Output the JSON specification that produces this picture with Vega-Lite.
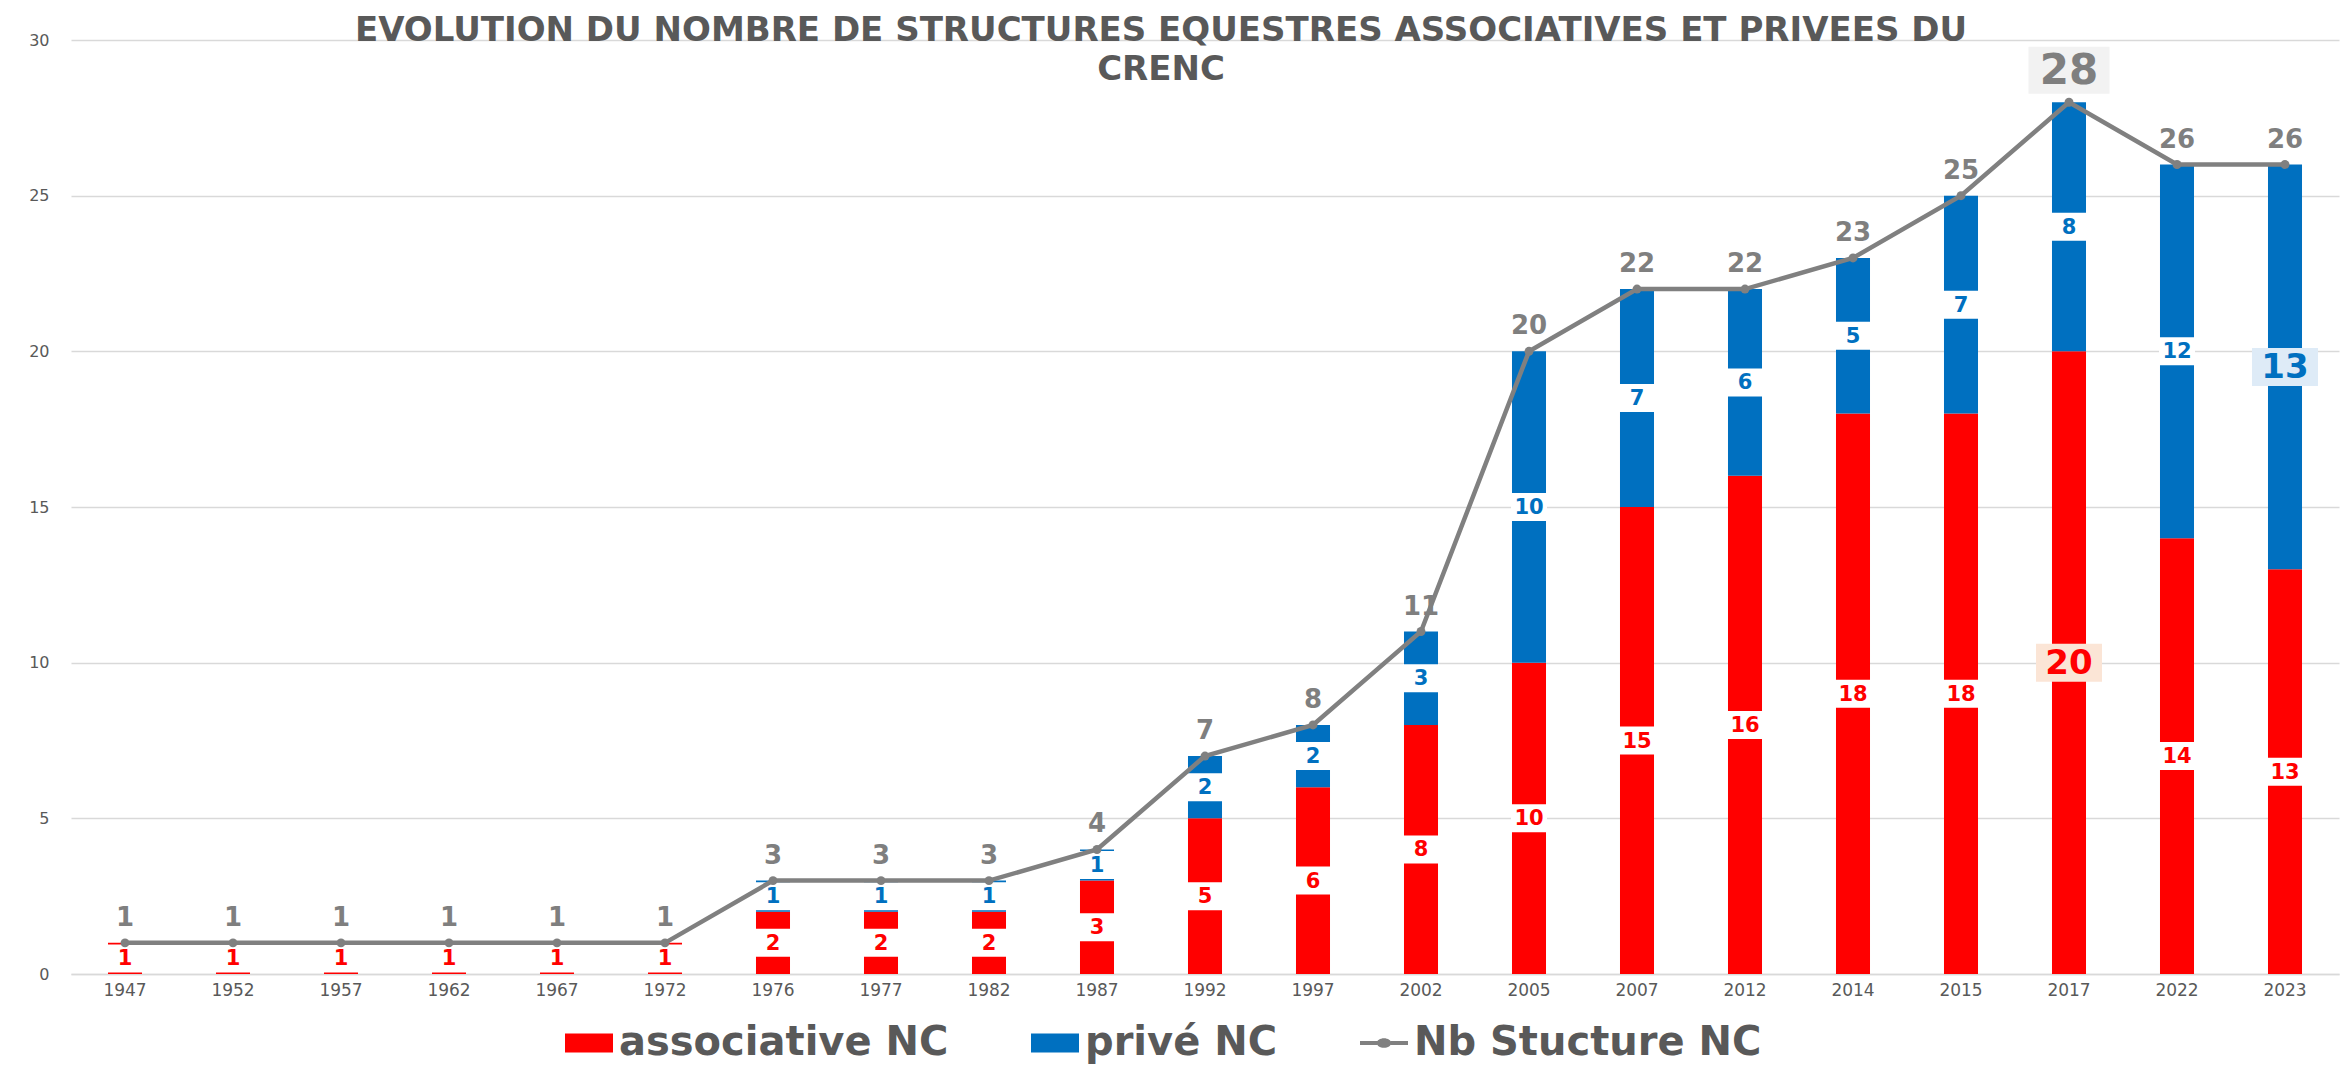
{
  "$schema": "https://vega.github.io/schema/vega-lite/v6.json",
  "autosize": {"type": "none"},
  "width": 2268,
  "height": 934,
  "padding": {"left": 71, "top": 40, "right": 12, "bottom": 98},
  "background": "white",
  "config": {
    "view": {"stroke": null},
    "font": "DejaVu Sans"
  },
  "title": {
    "text": ["EVOLUTION DU NOMBRE DE STRUCTURES EQUESTRES ASSOCIATIVES ET PRIVEES DU", "CRENC"],
    "font": "DejaVu Sans",
    "fontSize": 34,
    "fontWeight": "bold",
    "color": "#595959",
    "anchor": "middle",
    "frame": "group",
    "dx": -44,
    "offset": -55,
    "lineHeight": 39
  },
  "datasets": {
    "structures": [
      {"annee": "1947", "associative NC": 1, "privé NC": 0, "Nb Stucture NC": 1},
      {"annee": "1952", "associative NC": 1, "privé NC": 0, "Nb Stucture NC": 1},
      {"annee": "1957", "associative NC": 1, "privé NC": 0, "Nb Stucture NC": 1},
      {"annee": "1962", "associative NC": 1, "privé NC": 0, "Nb Stucture NC": 1},
      {"annee": "1967", "associative NC": 1, "privé NC": 0, "Nb Stucture NC": 1},
      {"annee": "1972", "associative NC": 1, "privé NC": 0, "Nb Stucture NC": 1},
      {"annee": "1976", "associative NC": 2, "privé NC": 1, "Nb Stucture NC": 3},
      {"annee": "1977", "associative NC": 2, "privé NC": 1, "Nb Stucture NC": 3},
      {"annee": "1982", "associative NC": 2, "privé NC": 1, "Nb Stucture NC": 3},
      {"annee": "1987", "associative NC": 3, "privé NC": 1, "Nb Stucture NC": 4},
      {"annee": "1992", "associative NC": 5, "privé NC": 2, "Nb Stucture NC": 7},
      {"annee": "1997", "associative NC": 6, "privé NC": 2, "Nb Stucture NC": 8},
      {"annee": "2002", "associative NC": 8, "privé NC": 3, "Nb Stucture NC": 11},
      {"annee": "2005", "associative NC": 10, "privé NC": 10, "Nb Stucture NC": 20},
      {"annee": "2007", "associative NC": 15, "privé NC": 7, "Nb Stucture NC": 22},
      {"annee": "2012", "associative NC": 16, "privé NC": 6, "Nb Stucture NC": 22},
      {"annee": "2014", "associative NC": 18, "privé NC": 5, "Nb Stucture NC": 23},
      {"annee": "2015", "associative NC": 18, "privé NC": 7, "Nb Stucture NC": 25},
      {"annee": "2017", "associative NC": 20, "privé NC": 8, "Nb Stucture NC": 28},
      {"annee": "2022", "associative NC": 14, "privé NC": 12, "Nb Stucture NC": 26},
      {"annee": "2023", "associative NC": 13, "privé NC": 13, "Nb Stucture NC": 26}
    ]
  },
  "data": {"name": "structures"},
  "layer": [
    {
      "transform": [
        {"fold": ["associative NC", "privé NC"], "as": ["type", "valeur"]}
      ],
      "mark": {"type": "bar"},
      "encoding": {
        "x": {
          "field": "annee", "type": "nominal",
          "scale": {"paddingInner": 0.685, "paddingOuter": 0.3425},
          "axis": {
            "title": null, "labelAngle": 0, "ticks": false,
            "domainColor": "#d9d9d9", "domainWidth": 1.5,
            "labelFont": "DejaVu Sans", "labelFontSize": 17, "labelColor": "#595959",
            "labelPadding": 8, "grid": false
          }
        },
        "y": {
          "aggregate": "sum", "field": "valeur", "type": "quantitative",
          "stack": "zero",
          "scale": {"domain": [0, 30], "nice": false},
          "axis": {
            "title": null, "domain": false, "ticks": false,
            "values": [0, 5, 10, 15, 20, 25, 30],
            "grid": true, "gridColor": "#d9d9d9", "gridWidth": 1.5,
            "labelFont": "DejaVu Sans", "labelFontSize": 16, "labelColor": "#595959",
            "labelPadding": 22
          }
        },
        "color": {
          "field": "type", "type": "nominal",
          "scale": {
            "domain": ["associative NC", "privé NC", "Nb Stucture NC"],
            "range": ["#ff0000", "#0070c0", "#808080"]
          },
          "legend": {
            "title": null,
            "orient": "none",
            "direction": "horizontal",
            "legendX": 494,
            "legendY": 979,
            "padding": 0,
            "symbolSize": 2304,
            "symbolStrokeWidth": 0,
            "labelOffset": 6,
            "columnPadding": 82,
            "labelFont": "DejaVu Sans",
            "labelFontSize": 40,
            "labelFontWeight": "bold",
            "labelColor": "#595959",
            "labelLimit": 0,
            "encode": {
              "symbols": {
                "update": {
                  "shape": {"signal": "datum.value == 'Nb Stucture NC' ? 'M-1,-0.08H-0.28V0.08H-1Z M0.28,-0.08H1V0.08H0.28Z M-0.3,0A0.3,0.2 0 1,1 0.3,0A0.3,0.2 0 1,1 -0.3,0Z' : 'M-1,-0.4H1V0.4H-1Z'"},
                  "opacity": {"value": 1}
                }
              }
            }
          }
        },
        "order": {"field": "type", "sort": "ascending"}
      }
    },
    {
      "transform": [
        {"fold": ["associative NC", "privé NC"], "as": ["type", "valeur"]},
        {"filter": "datum.valeur > 0"},
        {"stack": "valeur", "groupby": ["annee"], "sort": [{"field": "type", "order": "ascending"}], "as": ["y0", "y1"]},
        {"fold": ["y0", "y1"], "as": ["bord", "pos"]},
        {"filter": "!((datum.annee == '2017' && datum.type == 'associative NC') || (datum.annee == '2023' && datum.type == 'privé NC'))"}
      ],
      "mark": {"type": "point", "shape": "M-1,-0.778H1V0.778H-1Z", "size": 1296, "filled": true, "opacity": 1, "color": "white", "strokeWidth": 0},
      "encoding": {
        "x": {"field": "annee", "type": "nominal"},
        "y": {"aggregate": "mean", "field": "pos", "type": "quantitative"},
        "detail": {"field": "type"}
      }
    },
    {
      "transform": [
        {"fold": ["associative NC", "privé NC"], "as": ["type", "valeur"]},
        {"filter": "datum.valeur > 0"},
        {"stack": "valeur", "groupby": ["annee"], "sort": [{"field": "type", "order": "ascending"}], "as": ["y0", "y1"]},
        {"fold": ["y0", "y1"], "as": ["bord", "pos"]},
        {"filter": "!((datum.annee == '2017' && datum.type == 'associative NC') || (datum.annee == '2023' && datum.type == 'privé NC'))"}
      ],
      "mark": {"type": "text", "font": "DejaVu Sans", "fontSize": 21, "fontWeight": "bold", "baseline": "middle", "align": "center", "dy": 1},
      "encoding": {
        "x": {"field": "annee", "type": "nominal"},
        "y": {"aggregate": "mean", "field": "pos", "type": "quantitative"},
        "text": {"field": "valeur", "type": "quantitative"},
        "detail": {"field": "type"},
        "fill": {"condition": {"test": "datum.type == 'associative NC'", "value": "#ff0000"}, "value": "#0070c0"}
      }
    },
    {
      "transform": [
        {"fold": ["associative NC", "privé NC"], "as": ["type", "valeur"]},
        {"filter": "datum.valeur > 0"},
        {"stack": "valeur", "groupby": ["annee"], "sort": [{"field": "type", "order": "ascending"}], "as": ["y0", "y1"]},
        {"fold": ["y0", "y1"], "as": ["bord", "pos"]},
        {"filter": "(datum.annee == '2017' && datum.type == 'associative NC') || (datum.annee == '2023' && datum.type == 'privé NC')"}
      ],
      "mark": {"type": "point", "shape": "M-1,-0.576H1V0.576H-1Z", "size": 4356, "filled": true, "opacity": 1, "strokeWidth": 0},
      "encoding": {
        "x": {"field": "annee", "type": "nominal"},
        "y": {"aggregate": "mean", "field": "pos", "type": "quantitative"},
        "detail": {"field": "type"},
        "fill": {"condition": {"test": "datum.type == 'associative NC'", "value": "#fbe5d6"}, "value": "#deebf7"}
      }
    },
    {
      "transform": [
        {"fold": ["associative NC", "privé NC"], "as": ["type", "valeur"]},
        {"filter": "datum.valeur > 0"},
        {"stack": "valeur", "groupby": ["annee"], "sort": [{"field": "type", "order": "ascending"}], "as": ["y0", "y1"]},
        {"fold": ["y0", "y1"], "as": ["bord", "pos"]},
        {"filter": "(datum.annee == '2017' && datum.type == 'associative NC') || (datum.annee == '2023' && datum.type == 'privé NC')"}
      ],
      "mark": {"type": "text", "font": "DejaVu Sans", "fontSize": 34, "fontWeight": "bold", "baseline": "middle", "align": "center", "dy": 1},
      "encoding": {
        "x": {"field": "annee", "type": "nominal"},
        "y": {"aggregate": "mean", "field": "pos", "type": "quantitative"},
        "text": {"field": "valeur", "type": "quantitative"},
        "detail": {"field": "type"},
        "fill": {"condition": {"test": "datum.type == 'associative NC'", "value": "#ff0000"}, "value": "#0070c0"}
      }
    },
    {
      "mark": {"type": "line", "color": "#808080", "strokeWidth": 4.5, "point": {"filled": true, "size": 80, "color": "#808080", "opacity": 1}},
      "encoding": {
        "x": {"field": "annee", "type": "nominal"},
        "y": {"field": "Nb Stucture NC", "type": "quantitative"}
      }
    },
    {
      "transform": [{"filter": "datum.annee != '2017'"}],
      "mark": {"type": "text", "font": "DejaVu Sans", "fontSize": 26, "fontWeight": "bold", "color": "#7f7f7f", "baseline": "middle", "align": "center", "dy": -25},
      "encoding": {
        "x": {"field": "annee", "type": "nominal"},
        "y": {"field": "Nb Stucture NC", "type": "quantitative"},
        "text": {"field": "Nb Stucture NC", "type": "quantitative"}
      }
    },
    {
      "transform": [{"filter": "datum.annee == '2017'"}],
      "mark": {"type": "point", "shape": "M-1,-0.58H1V0.58H-1Z", "size": 6561, "filled": true, "opacity": 1, "color": "#f2f2f2", "strokeWidth": 0, "yOffset": -32},
      "encoding": {
        "x": {"field": "annee", "type": "nominal"},
        "y": {"field": "Nb Stucture NC", "type": "quantitative"}
      }
    },
    {
      "transform": [{"filter": "datum.annee == '2017'"}],
      "mark": {"type": "text", "font": "DejaVu Sans", "fontSize": 42, "fontWeight": "bold", "color": "#7f7f7f", "baseline": "middle", "align": "center", "dy": -31},
      "encoding": {
        "x": {"field": "annee", "type": "nominal"},
        "y": {"field": "Nb Stucture NC", "type": "quantitative"},
        "text": {"field": "Nb Stucture NC", "type": "quantitative"}
      }
    }
  ]
}
